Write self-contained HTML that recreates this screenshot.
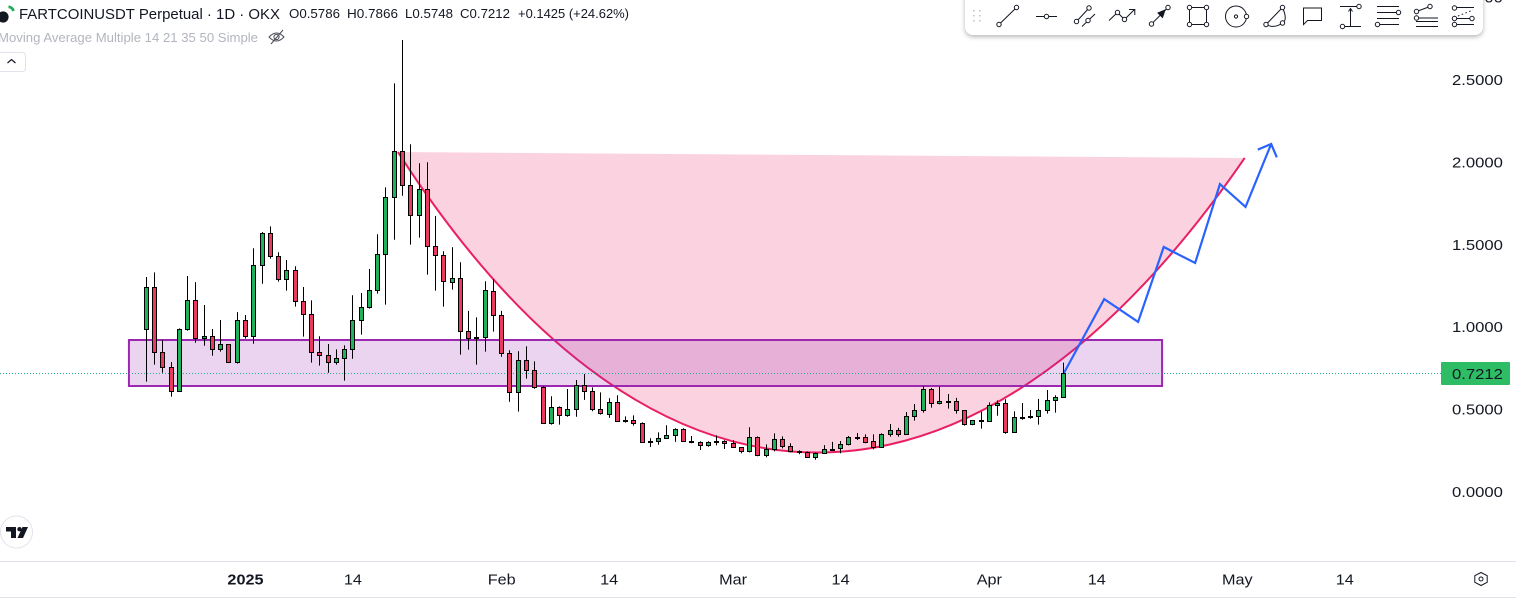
<!DOCTYPE html>
<html lang="en">
<head>
<meta charset="utf-8">
<title>FARTCOINUSDT Perpetual chart</title>
<style>
html,body{margin:0;padding:0;background:#fff;width:1516px;height:604px;overflow:hidden;}
#stage{position:relative;width:1516px;height:604px;overflow:hidden;background:#fff;font-family:"Liberation Sans",sans-serif;}
svg{position:absolute;left:0;top:0;}
#toolbar{position:absolute;left:965px;top:-10px;width:518px;height:45px;background:#fff;border-radius:8px;box-shadow:0 2px 5px rgba(0,0,0,.28);}
.ic{fill:none;stroke:#131722;stroke-width:1;}
.ic circle{fill:#fff;}
text{font-family:"Liberation Sans",sans-serif;}
</style>
</head>
<body>
<div id="stage">
<svg id="chart" width="1516" height="604" viewBox="0 0 1516 604">
  <g id="drawings"></g>
  <g id="candles"></g>
  <g id="priceAxis"></g>
  <g id="timeAxis"></g>

  <line x1="0" y1="561.5" x2="1516" y2="561.5" stroke="#e0e3eb"/>
  <line x1="0" y1="597.5" x2="1516" y2="597.5" stroke="#e0e3eb"/>

  <g>
    <circle cx="3" cy="17" r="5.6" fill="#131722"/>
    <path d="M8.5 6.8 A5.5 5.5 0 0 1 13.5 11" fill="none" stroke="#22ab58" stroke-width="2.8"/>
  </g>
  <text x="19" y="19" font-size="15" fill="#131722" textLength="261" lengthAdjust="spacingAndGlyphs">FARTCOINUSDT Perpetual · 1D · OKX</text>
  <g font-size="12.5" fill="#131722">
    <text x="289" y="18" textLength="51" lengthAdjust="spacingAndGlyphs">O0.5786</text>
    <text x="347" y="18" textLength="51" lengthAdjust="spacingAndGlyphs">H0.7866</text>
    <text x="405" y="18" textLength="48" lengthAdjust="spacingAndGlyphs">L0.5748</text>
    <text x="460" y="18" textLength="50" lengthAdjust="spacingAndGlyphs">C0.7212</text>
    <text x="518" y="18" textLength="111" lengthAdjust="spacingAndGlyphs">+0.1425 (+24.62%)</text>
  </g>
  <text x="-2" y="42" font-size="13" fill="#b2b5be" textLength="260" lengthAdjust="spacingAndGlyphs">Moving Average Multiple 14 21 35 50 Simple</text>
  <g fill="none" stroke="#4a4d57" stroke-width="1">
    <path d="M269 37 Q276.5 29 284 37 Q276.5 45 269 37 Z"/>
    <circle cx="276.5" cy="37" r="2.6"/>
    <line x1="271" y1="44" x2="283" y2="30"/>
  </g>
  <g>
    <rect x="-3" y="52.5" width="28.5" height="19" rx="3" fill="#fff" stroke="#e0e3eb"/>
    <path d="M7.5 63 L11.5 59.5 L15.5 63" fill="none" stroke="#131722" stroke-width="1.2"/>
  </g>

  <g>
    <circle cx="16.5" cy="532" r="16" fill="#fff" stroke="#e0e3eb"/>
    <path d="M6 527 H16 V538 H11 V531.5 H6 Z" fill="#131722"/>
    <circle cx="19.5" cy="529.2" r="2.2" fill="#131722"/>
    <path d="M22.5 527 H28 L23 538 H17.5 Z" fill="#131722"/>
  </g>

  <path d="M1481 572.5 L1474.8 575.7 V582.3 L1481 585.5 L1487.2 582.3 V575.7 Z" fill="none" stroke="#131722"/>
  <circle cx="1481" cy="579" r="2" fill="none" stroke="#131722"/>
</svg>

<div id="toolbar"></div>
<svg width="1516" height="604" viewBox="0 0 1516 604" style="pointer-events:none">
  <g fill="#c4c6cd">
    <rect x="973" y="10" width="1.6" height="1.6"/><rect x="979" y="10" width="1.6" height="1.6"/>
    <rect x="973" y="15" width="1.6" height="1.6"/><rect x="979" y="15" width="1.6" height="1.6"/>
    <rect x="973" y="20" width="1.6" height="1.6"/><rect x="979" y="20" width="1.6" height="1.6"/>
  </g>
  <g class="ic">
    <line x1="999" y1="24.5" x2="1016.5" y2="7.5"/><circle cx="999" cy="24.5" r="2.2"/><circle cx="1016.5" cy="7.5" r="2.2"/>
  </g>
  <g class="ic">
    <line x1="1036" y1="16.5" x2="1057" y2="16.5"/><circle cx="1046.5" cy="16.5" r="2.2"/>
  </g>
  <g class="ic">
    <line x1="1076.5" y1="21.5" x2="1089" y2="8"/><circle cx="1076.5" cy="21.5" r="2.2"/><circle cx="1089" cy="8" r="2.2"/>
    <line x1="1082" y1="26.5" x2="1095" y2="14"/><circle cx="1088" cy="20.5" r="2.2"/>
  </g>
  <g class="ic">
    <path d="M1109 20.5 L1117.5 12.5 L1124.5 19.5 L1134.5 9.5 M1129 9.5 H1134.8 V15"/><circle cx="1117.5" cy="12.5" r="2.2"/><circle cx="1124.5" cy="19.5" r="2.2"/>
  </g>
  <g class="ic">
    <line x1="1151.5" y1="24" x2="1168" y2="7.5"/>
    <path d="M1158 13 L1165 10 L1162.5 17.5 Z" fill="#131722"/>
    <circle cx="1151.5" cy="24" r="2.2"/><circle cx="1168" cy="7.5" r="2.2"/>
  </g>
  <g class="ic">
    <rect x="1189.5" y="7.5" width="17" height="17"/>
    <circle cx="1189.5" cy="7.5" r="2.2"/><circle cx="1206.5" cy="7.5" r="2.2"/><circle cx="1189.5" cy="24.5" r="2.2"/><circle cx="1206.5" cy="24.5" r="2.2"/>
  </g>
  <g class="ic">
    <circle cx="1236" cy="16.5" r="10.5"/><circle cx="1236" cy="16.5" r="1.6"/><circle cx="1246.5" cy="16.5" r="2.2"/>
  </g>
  <g class="ic">
    <path d="M1266 24.5 L1282.5 7.5 Q1288 20 1282.5 23 Q1274 29 1266 24.5"/>
    <circle cx="1266" cy="24.5" r="2.2"/><circle cx="1282.5" cy="7.5" r="2.2"/><circle cx="1282.5" cy="23" r="2.2"/>
  </g>
  <g class="ic">
    <path d="M1303.5 8 H1321.5 V20.5 H1307.5 L1303.5 24.5 Z"/>
  </g>
  <g class="ic">
    <path d="M1340 6.5 H1357 M1344 26.5 H1361 M1350.5 26 V9 M1348.5 11.5 L1350.5 8.5 L1352.5 11.5"/>
    <circle cx="1359" cy="6.5" r="2.2"/><circle cx="1342.5" cy="26.5" r="2.2"/>
  </g>
  <g class="ic">
    <path d="M1377 6.5 H1399 M1377 12.5 H1396 M1377 18.5 H1399 M1380 24.5 H1399"/>
    <circle cx="1398.5" cy="12.5" r="2.2"/><circle cx="1377.5" cy="24.5" r="2.2"/>
  </g>
  <g class="ic">
    <path d="M1416.5 11.5 L1430 6.5 M1416.5 18 H1438 M1416 21.5 H1438 M1416 26.5 H1438"/>
    <circle cx="1416.5" cy="11.5" r="2.2"/><circle cx="1430" cy="6.5" r="2.2"/><circle cx="1416.5" cy="18" r="2.2"/>
  </g>
  <g class="ic">
    <path d="M1456 7.5 H1474 M1456 18.5 H1472 M1456 24.5 H1474"/>
    <path d="M1458 16 L1473 10" stroke-dasharray="1.5 2.5"/>
    <circle cx="1454.5" cy="8" r="2.2"/><circle cx="1454.5" cy="18.5" r="2.2"/><circle cx="1472" cy="18.5" r="2.2"/><circle cx="1454.5" cy="24.5" r="2.2"/>
  </g>
</svg>
</div>

<script>
// ---- candle series (bar 0 = first date below) ----
const firstBarDate = '2024-12-20';
const opens = [0.988,1.243,0.849,0.758,0.612,0.988,1.164,0.934,0.946,0.867,0.897,0.788,1.043,0.946,1.377,1.571,1.431,1.292,1.346,1.158,
1.079,0.849,0.830,0.788,0.812,0.867,1.043,1.122,1.225,1.443,1.789,2.068,1.862,1.680,1.838,1.492,1.437,1.273,1.298,0.976,
0.938,0.940,1.219,1.073,0.843,0.606,0.800,0.739,0.636,0.418,0.515,0.466,0.503,0.649,0.612,0.503,0.473,0.545,0.436,0.436,
0.418,0.309,0.309,0.327,0.345,0.382,0.309,0.303,0.284,0.303,0.309,0.297,0.272,0.248,0.333,0.224,0.260,0.321,0.278,0.250,
0.242,0.212,0.236,0.260,0.266,0.290,0.333,0.333,0.309,0.272,0.351,0.375,0.351,0.460,0.497,0.624,0.539,0.551,0.551,0.497,
0.412,0.436,0.430,0.527,0.539,0.363,0.454,0.458,0.460,0.497,0.557,0.5786];
const highs = [1.306,1.334,0.924,0.790,0.994,1.312,1.275,1.136,0.990,1.045,0.897,1.093,1.075,1.480,1.579,1.613,1.456,1.409,1.371,1.245,
1.164,0.946,0.899,0.867,0.891,1.195,1.209,1.354,1.565,1.850,2.481,2.744,2.111,1.996,2.002,1.676,1.462,1.486,1.395,1.100,
1.061,1.280,1.292,1.100,0.861,0.855,0.885,0.794,0.642,0.582,0.521,0.626,0.681,0.717,0.636,0.606,0.570,0.588,0.460,0.466,
0.424,0.327,0.363,0.406,0.388,0.388,0.341,0.309,0.309,0.345,0.315,0.315,0.272,0.394,0.339,0.290,0.357,0.339,0.297,0.254,
0.248,0.240,0.286,0.305,0.311,0.341,0.359,0.351,0.351,0.357,0.414,0.390,0.487,0.535,0.644,0.632,0.640,0.596,0.572,0.497,
0.438,0.489,0.545,0.557,0.564,0.491,0.541,0.499,0.566,0.620,0.588,0.7866];
const lows = [0.671,0.774,0.725,0.580,0.612,0.980,0.907,0.889,0.828,0.853,0.788,0.780,0.932,0.901,1.265,1.417,1.278,1.223,1.126,0.944,
0.786,0.768,0.725,0.774,0.677,0.810,0.956,1.114,1.205,1.138,1.532,1.799,1.502,1.545,1.320,1.223,1.126,1.229,0.835,0.865,
0.774,0.853,0.974,0.822,0.549,0.489,0.689,0.628,0.418,0.410,0.410,0.458,0.458,0.560,0.491,0.471,0.452,0.428,0.422,0.404,
0.301,0.274,0.288,0.325,0.305,0.307,0.297,0.256,0.276,0.284,0.262,0.272,0.236,0.242,0.218,0.212,0.248,0.266,0.242,0.230,
0.212,0.197,0.234,0.256,0.236,0.284,0.317,0.297,0.260,0.272,0.337,0.337,0.351,0.434,0.483,0.513,0.533,0.507,0.477,0.404,
0.406,0.386,0.428,0.464,0.355,0.363,0.440,0.446,0.410,0.477,0.483,0.5748];
const closes = [1.243,0.849,0.758,0.612,0.988,1.164,0.934,0.946,0.867,0.897,0.788,1.043,0.946,1.377,1.571,1.431,1.292,1.346,1.158,1.079,
0.849,0.830,0.788,0.812,0.867,1.043,1.122,1.225,1.443,1.789,2.068,1.862,1.680,1.838,1.492,1.437,1.280,1.298,0.976,0.934,
0.942,1.225,1.073,0.843,0.606,0.800,0.739,0.636,0.418,0.515,0.466,0.503,0.649,0.612,0.503,0.479,0.545,0.430,0.430,0.418,
0.303,0.303,0.327,0.345,0.382,0.309,0.303,0.284,0.303,0.309,0.297,0.272,0.248,0.333,0.224,0.260,0.321,0.278,0.248,0.248,
0.212,0.236,0.260,0.264,0.290,0.333,0.331,0.307,0.272,0.351,0.375,0.351,0.460,0.497,0.624,0.539,0.551,0.549,0.497,0.412,
0.436,0.434,0.527,0.541,0.363,0.454,0.452,0.460,0.497,0.557,0.576,0.7212];

// ---- axes ----
const priceTicks = [0,0.5,1,1.5,2,2.5,3];
const timeTickDates = ['2025-01-01','2025-01-14','2025-02-01','2025-02-14','2025-03-01','2025-03-14','2025-04-01','2025-04-14','2025-05-01','2025-05-14'];
const timeTickLabels = ['2025','14','Feb','14','Mar','14','Apr','14','May','14'];

// ---- drawings (bar index / price anchors) ----
const zoneBars = [-2.1,122.9];
const zonePrices = [0.9235,0.6444];
const arcBars = [30.45,61.5,100.1,132.9];
const arcPrices = [2.064,-0.361,-0.361,2.028];
const pathBars = [111,115.9,120,123.1,126.9,129.9,133,136.1];
const pathPrices = [0.7212,1.172,1.033,1.488,1.391,1.870,1.731,2.113];

const NS = 'http://www.w3.org/2000/svg';
function xOf(bar){ return 146.3 + 8.265 * bar; }
function yOf(price){ return 492.2 - 164.8 * price; }
function barOfDate(d){ return Math.round((Date.parse(d) - Date.parse(firstBarDate)) / 86400000); }
function make(tag, attrs, parent){
  const el = document.createElementNS(NS, tag);
  for (const k in attrs) el.setAttribute(k, attrs[k]);
  parent.appendChild(el);
  return el;
}

const drawings = document.getElementById('drawings');
const candles = document.getElementById('candles');
const priceAxis = document.getElementById('priceAxis');
const timeAxis = document.getElementById('timeAxis');

// arc
const arcD = 'M' + xOf(arcBars[0]) + ' ' + yOf(arcPrices[0]) +
  ' C' + xOf(arcBars[1]) + ' ' + yOf(arcPrices[1]) +
  ' ' + xOf(arcBars[2]) + ' ' + yOf(arcPrices[2]) +
  ' ' + xOf(arcBars[3]) + ' ' + yOf(arcPrices[3]);
const arcFill = make('path', {d: arcD + ' Z', fill: 'rgba(233,30,99,0.2)', stroke: 'none'}, drawings);


const arcLine = make('path', {d: arcD, fill: 'none', stroke: '#e91e63', 'stroke-width': 2}, drawings);



// zone
const zone = make('rect', {
  x: xOf(zoneBars[0]), y: yOf(zonePrices[0]),
  width: xOf(zoneBars[1]) - xOf(zoneBars[0]), height: yOf(zonePrices[1]) - yOf(zonePrices[0]),
  fill: 'rgba(156,39,176,0.2)', stroke: '#9c27b0', 'stroke-width': 2
}, drawings);



// last price line
const lastClose = closes[closes.length - 1];
const lastY = Math.floor(yOf(lastClose)) + 0.5;
const lastLine = make('line', {x1: 0, x2: 1441, y1: lastY, y2: lastY, stroke: '#22ab94', 'stroke-dasharray': '1 2', 'stroke-width': 1}, drawings);



// projection path
const pathPts = pathBars.map(function(b, i){ return [xOf(b), yOf(pathPrices[i])]; });
const projection = make('polyline', {points: pathPts.map(function(p){ return p.join(','); }).join(' '), fill: 'none', stroke: '#2962ff', 'stroke-width': 2.2, 'stroke-linejoin': 'miter'}, drawings);


const tip = pathPts[pathPts.length - 1];
const prev = pathPts[pathPts.length - 2];
const ang = Math.atan2(prev[1] - tip[1], prev[0] - tip[0]);
const headLen = 14.5;
const headA = [tip[0] + headLen * Math.cos(ang + Math.PI / 4), tip[1] + headLen * Math.sin(ang + Math.PI / 4)];
const headB = [tip[0] + headLen * Math.cos(ang - Math.PI / 4), tip[1] + headLen * Math.sin(ang - Math.PI / 4)];
const head = make('polyline', {points: headA.join(',') + ' ' + tip.join(',') + ' ' + headB.join(','), fill: 'none', stroke: '#2962ff', 'stroke-width': 2.2}, drawings);



// candles
opens.forEach(function(o, i){
  const c = closes[i];
  const up = c >= o;
  const cx = Math.floor(xOf(i)) + 0.5;
  const top = Math.round(yOf(Math.max(o, c))) + 0.5;
  const bot = Math.round(yOf(Math.min(o, c))) + 0.5;
  const g = make('g', {}, candles);
  
  
  const wick = make('line', {x1: cx, x2: cx, y1: yOf(highs[i]), y2: yOf(lows[i]), stroke: '#000', 'stroke-width': 1}, g);
  
  
  const body = make('rect', {x: cx - 2, y: top, width: 4, height: Math.max(bot - top, 1), fill: up ? '#1fb25a' : '#ea3a60', stroke: '#000', 'stroke-width': 1}, g);
  
  
});

// price axis
priceTicks.forEach(function(p){
  const t = make('text', {transform: 'translate(1452,' + (yOf(p) + 4.8) + ') scale(1.15,1)', 'font-size': 14.5, fill: '#131722'}, priceAxis);
  t.textContent = p.toFixed(4);
  
  
});
const tag = make('rect', {x: 1441, y: yOf(lastClose) - 11.3, width: 69, height: 23, fill: '#2ebd65', rx: 1}, priceAxis);


const tagText = make('text', {transform: 'translate(1452,' + (yOf(lastClose) + 5.5) + ') scale(1.15,1)', 'font-size': 14.5, fill: '#131722'}, priceAxis);
tagText.textContent = lastClose.toFixed(4);



// time axis
timeTickDates.forEach(function(d, i){
  const label = timeTickLabels[i];
  const t = make('text', {
    transform: 'translate(' + xOf(barOfDate(d)) + ',584.5) scale(1.12,1)',
    'font-size': 14.5, 'text-anchor': 'middle', fill: '#131722',
    'font-weight': label === '2025' ? 'bold' : 'normal'
  }, timeAxis);
  t.textContent = label;
  
  
});
</script>
</body>
</html>
